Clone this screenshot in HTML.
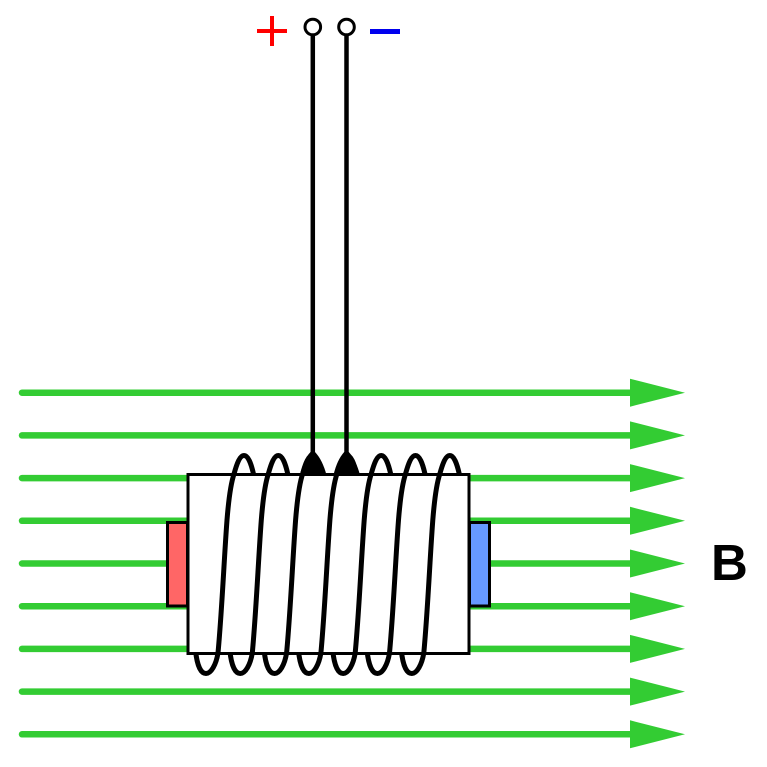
<!DOCTYPE html>
<html><head><meta charset="utf-8"><style>
html,body{margin:0;padding:0;background:#fff;}
svg{display:block;}
</style></head><body>
<svg width="767" height="767" viewBox="0 0 767 767" xmlns="http://www.w3.org/2000/svg">
<defs>
<path id="turn" d="M195,635 L195.5,650 C197,666 201,673.5 206,673.5 C211,673.5 216,665 218,653 C222,610 224,560 227,520 C229,495 231,483 234,474 C237,463 240,455.5 244,455.5 C248,455.5 251,463 253.5,474 L254.5,495"/>
<path id="strand" d="M218,653 C222,610 224,560 227,520 C229,495 231,483 234,474"/>
</defs>
<rect width="767" height="767" fill="#fff"/>
<g stroke="#33cc33" stroke-width="6.5" stroke-linecap="round">
<line x1="22" y1="392.7" x2="634" y2="392.7"/>
<line x1="22" y1="435.4" x2="634" y2="435.4"/>
<line x1="22" y1="478.1" x2="634" y2="478.1"/>
<line x1="22" y1="520.8" x2="634" y2="520.8"/>
<line x1="22" y1="563.5" x2="634" y2="563.5"/>
<line x1="22" y1="606.2" x2="634" y2="606.2"/>
<line x1="22" y1="648.9" x2="634" y2="648.9"/>
<line x1="22" y1="691.6" x2="634" y2="691.6"/>
<line x1="22" y1="734.3" x2="634" y2="734.3"/>
</g>
<g fill="#33cc33">
<polygon points="630,378.7 685,392.7 630,406.7"/>
<polygon points="630,421.4 685,435.4 630,449.4"/>
<polygon points="630,464.1 685,478.1 630,492.1"/>
<polygon points="630,506.8 685,520.8 630,534.8"/>
<polygon points="630,549.5 685,563.5 630,577.5"/>
<polygon points="630,592.2 685,606.2 630,620.2"/>
<polygon points="630,634.9 685,648.9 630,662.9"/>
<polygon points="630,677.6 685,691.6 630,705.6"/>
<polygon points="630,720.3 685,734.3 630,748.3"/>
</g>
<!-- coil arcs (behind rect) -->
<g fill="none" stroke="#000" stroke-width="5" stroke-linecap="round">
<use href="#turn"/>
<use href="#turn" transform="translate(34.3,0)"/>
<use href="#turn" transform="translate(68.6,0)"/>
<use href="#turn" transform="translate(102.9,0)"/>
<use href="#turn" transform="translate(137.2,0)"/>
<use href="#turn" transform="translate(171.5,0)"/>
<use href="#turn" transform="translate(205.8,0)"/>
</g>
<!-- end caps -->
<rect x="167.5" y="522.5" width="20" height="83.5" fill="#ff6666" stroke="#000" stroke-width="3"/>
<rect x="469.5" y="522.5" width="20" height="83.5" fill="#6699ff" stroke="#000" stroke-width="3"/>
<!-- core -->
<rect x="188" y="474.5" width="281" height="179" fill="#fff" stroke="#000" stroke-width="3"/>
<!-- front strands -->
<g fill="none" stroke="#000" stroke-width="5" stroke-linecap="round">
<use href="#strand"/>
<use href="#strand" transform="translate(34.3,0)"/>
<use href="#strand" transform="translate(68.6,0)"/>
<use href="#strand" transform="translate(102.9,0)"/>
<use href="#strand" transform="translate(137.2,0)"/>
<use href="#strand" transform="translate(171.5,0)"/>
<use href="#strand" transform="translate(205.8,0)"/>
</g>
<!-- wires -->
<g stroke="#000" stroke-width="4.5" fill="none">
<line x1="312.8" y1="35" x2="312.8" y2="462"/>
<line x1="346.5" y1="35" x2="346.5" y2="462"/>
</g>
<path d="M300,475 Q303,460 310.5,452 L315,452 Q322.5,460 326.5,475 Z" fill="#000"/>
<path d="M333.5,475 Q337,460 344.2,452 L348.8,452 Q356,460 360,475 Z" fill="#000"/>
<circle cx="312.8" cy="27" r="7.8" fill="#fff" stroke="#000" stroke-width="3"/>
<circle cx="346.5" cy="27" r="7.8" fill="#fff" stroke="#000" stroke-width="3"/>
<!-- plus / minus -->
<g stroke="#ff0000" stroke-width="4">
<line x1="257" y1="31" x2="287" y2="31"/>
<line x1="272" y1="16" x2="272" y2="46"/>
</g>
<line x1="370" y1="31.5" x2="400" y2="31.5" stroke="#0000ee" stroke-width="5"/>
<text x="711" y="580" font-family="Liberation Sans, sans-serif" font-weight="bold" font-size="51" fill="#000">B</text>
</svg>
</body></html>
